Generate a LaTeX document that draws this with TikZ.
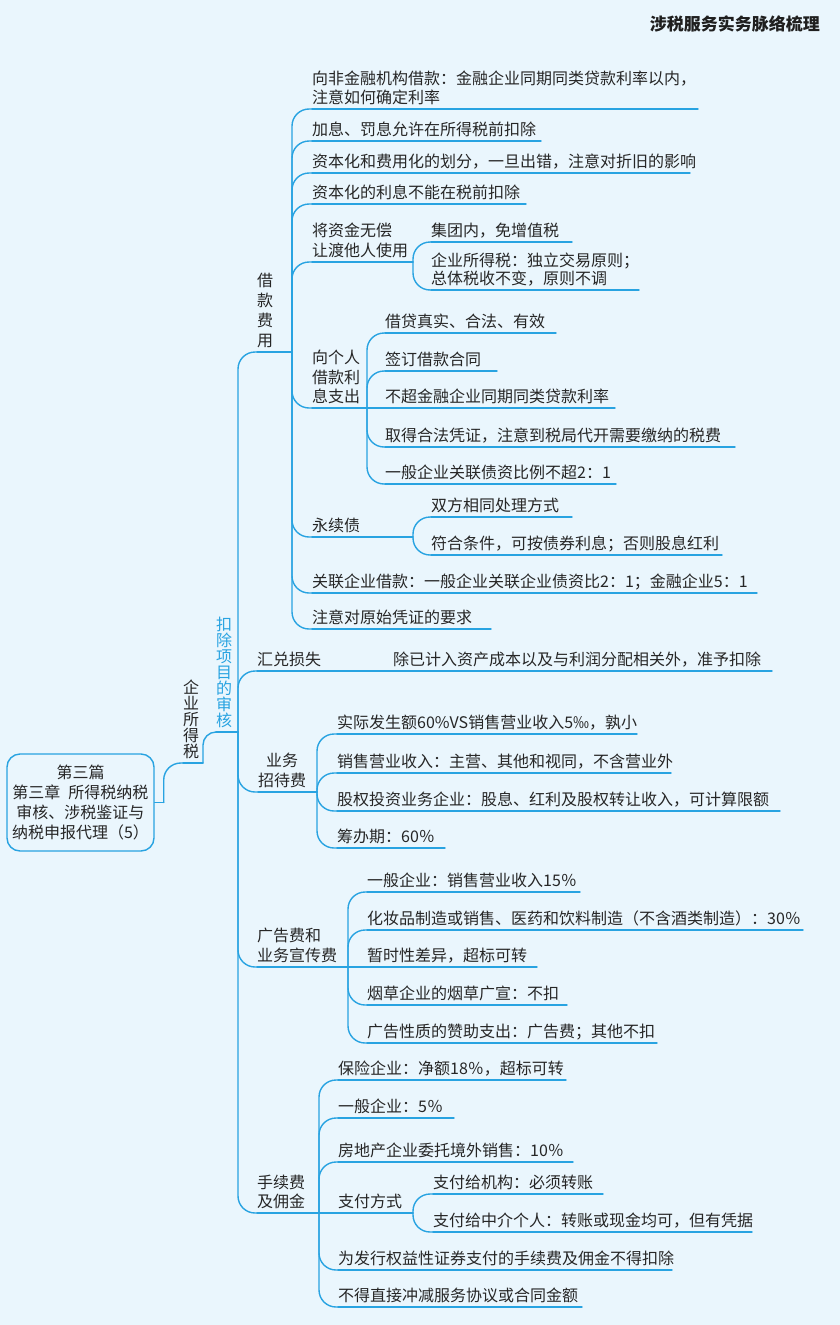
\documentclass[tikz,border=0pt]{standalone}
\usepackage{fontspec}
\setmainfont{Noto Sans CJK SC}
\newfontfamily\cjk{Noto Sans CJK SC}
\definecolor{bgc}{RGB}{234,246,253}
\definecolor{lb}{RGB}{40,163,225}
\definecolor{tc}{RGB}{38,38,38}
\newcommand\lne[1]{\hbox{#1}}
\newcommand\ml[2]{\vbox{\baselineskip=#1pt\lineskiplimit=-30pt #2}}
\tikzset{
  txt/.style={anchor=south west, inner xsep=0pt, inner ysep=5pt, text depth=0pt, text=tc,
    font=\cjk\fontsize{16}{19.5}\selectfont},
  ul/.style={draw=lb, line width=1.4pt, line cap=round},
  conn/.style={draw=lb, line width=1.4pt, line cap=round, rounded corners=17pt},
  rootbox/.style={draw=lb, line width=1.4pt, rounded corners=13pt, minimum width=147pt,
    minimum height=97pt, align=center, text=tc, inner sep=0pt,
    font=\cjk\fontsize{16}{19.7}\selectfont},
  titlestyle/.style={anchor=east, inner sep=0pt, text=black!88,
    font=\cjk\bfseries\fontsize{17}{20}\selectfont}
}
\newcommand\leaf[6][]{%
  \node[txt,#1] (#2) at (#3,#4) {#6};
  \coordinate (#2-e) at (#5,#4);
  \draw[ul] (#2.south west) -- (#2-e);}
\begin{document}
\begin{tikzpicture}[x=1pt,y=-1pt]
\path[use as bounding box, fill=bgc] (0,0) rectangle (840,1325);
\node[titlestyle] (title) at (820,24) {涉税服务实务脉络梳理};

% root
\node[rootbox] (root) at (80.5,802.5) {第三篇\\第三章\hspace{0.5em}所得税纳税\\审核、涉税鉴证与\\纳税申报代理（5）};
\draw[ul] (root.east) -- ++(9,0) coordinate (rk);

% level 1 / 2
\leaf{qy}{183}{763}{203}{\ml{16}{\lne{企}\lne{业}\lne{所}\lne{得}\lne{税}}}
\draw[conn] (rk) |- (qy.south west);
\leaf[text=lb]{kc}{216}{732}{238}{\ml{16}{\lne{扣}\lne{除}\lne{项}\lne{目}\lne{的}\lne{审}\lne{核}}}
\draw[conn, rounded corners=13pt] (qy-e) |- (kc.south west);

% level 3
\leaf{jk}{257}{352}{292}{\ml{20}{\lne{借}\lne{款}\lne{费}\lne{用}}}
\leaf{hd}{257}{671}{375}{汇兑损失}
\leaf{yw}{258}{792}{317}{\ml{20}{\hbox to 48pt{\hss 业务\hss}\lne{招待费}}}
\leaf{gg}{257}{967}{348}{\ml{20}{\lne{广告费和}\lne{业务宣传费}}}
\leaf{sx}{257}{1213}{319}{\ml{19.5}{\lne{手续费}\lne{及佣金}}}
\foreach \n in {jk,hd,yw,gg,sx} \draw[conn] (kc-e) |- (\n.south west);

% 借款费用
\leaf{j1}{312}{109}{698}{\ml{19.5}{\lne{向非金融机构借款：金融企业同期同类贷款利率以内，}\lne{注意如何确定利率}}}
\leaf{j2}{312}{141}{541}{加息、罚息允许在所得税前扣除}
\leaf{j3}{312}{173}{690}{资本化和费用化的划分，一旦出错，注意对折旧的影响}
\leaf{j4}{312}{204}{526}{资本化的利息不能在税前扣除}
\leaf{j5}{312}{262}{413}{\ml{20}{\lne{将资金无偿}\lne{让渡他人使用}}}
\leaf{j5a}{431}{242}{572}{集团内，免增值税}
\leaf{j5b}{431}{290}{639}{\ml{18.5}{\lne{企业所得税：独立交易原则；}\lne{总体税收不变，原则不调}}}
\leaf{j6}{312}{408}{367}{\ml{19.5}{\lne{向个人}\lne{借款利}\lne{息支出}}}
\leaf{j6a}{385}{333}{556}{借贷真实、合法、有效}
\leaf{j6b}{385}{371}{497}{签订借款合同}
\leaf{j6c}{385}{408}{615}{不超金融企业同期同类贷款利率}
\leaf{j6d}{385}{447}{735}{取得合法凭证，注意到税局代开需要缴纳的税费}
\leaf{j6e}{385}{484}{616}{一般企业关联债资比例不超2：1}
\leaf{j7}{312}{537}{413}{永续债}
\leaf{j7a}{431}{517}{572}{双方相同处理方式}
\leaf{j7b}{431}{555}{722}{符合条件，可按债券利息；否则股息红利}
\leaf{j8}{312}{593}{757}{关联企业借款：一般企业关联企业债资比2：1；金融企业5：1}
\leaf{j9}{312}{629}{491}{注意对原始凭证的要求}
\foreach \n in {j1,j2,j3,j4,j5,j6,j7,j8,j9} \draw[conn] (jk-e) |- (\n.south west);
\foreach \n in {j5a,j5b} \draw[conn] (j5-e) |- (\n.south west);
\foreach \n in {j6a,j6b,j6d,j6e} \draw[conn] (j6-e) |- (\n.south west);
\draw[ul] (j6-e) -- (j6c.south west);
\foreach \n in {j7a,j7b} \draw[conn] (j7-e) |- (\n.south west);

% 汇兑损失
\leaf{hdc}{393}{671}{772}{除已计入资产成本以及与利润分配相关外，准予扣除}
\draw[ul] (hd-e) -- (hdc.south west);

% 业务招待费
\leaf{y1}{337}{734}{637}{实际发生额60\%VS销售营业收入5‰，孰小}
\leaf{y2}{337}{773}{671}{销售营业收入：主营、其他和视同，不含营业外}
\leaf{y3}{337}{811}{780}{股权投资业务企业：股息、红利及股权转让收入，可计算限额}
\leaf{y4}{337}{848}{445}{筹办期：60％}
\foreach \n in {y1,y2,y3,y4} \draw[conn] (yw-e) |- (\n.south west);

% 广告费和业务宣传费
\leaf{g1}{367}{892}{580}{一般企业：销售营业收入15％}
\leaf{g2}{367}{930}{803}{化妆品制造或销售、医药和饮料制造（不含酒类制造）：30％}
\leaf{g3}{367}{967}{537}{暂时性差异，超标可转}
\leaf{g4}{367}{1005}{567}{烟草企业的烟草广宣：不扣}
\leaf{g5}{367}{1043}{657}{广告性质的赞助支出：广告费；其他不扣}
\foreach \n in {g1,g2,g4,g5} \draw[conn] (gg-e) |- (\n.south west);
\draw[ul] (gg-e) -- (g3.south west);

% 手续费及佣金
\leaf{s1}{338}{1080}{566}{保险企业：净额18％，超标可转}
\leaf{s2}{338}{1118}{454}{一般企业：5％}
\leaf{s3}{338}{1162}{573}{房地产企业委托境外销售：10％}
\leaf{s4}{338}{1213}{413}{支付方式}
\leaf{s4a}{433}{1194}{603}{支付给机构：必须转账}
\leaf{s4b}{433}{1232}{752}{支付给中介个人：转账或现金均可，但有凭据}
\leaf{s5}{338}{1270}{672}{为发行权益性证券支付的手续费及佣金不得扣除}
\leaf{s6}{338}{1307}{582}{不得直接冲减服务协议或合同金额}
\foreach \n in {s1,s2,s3,s5,s6} \draw[conn] (sx-e) |- (\n.south west);
\draw[ul] (sx-e) -- (s4.south west);
\foreach \n in {s4a,s4b} \draw[conn] (s4-e) |- (\n.south west);
\end{tikzpicture}
\end{document}
